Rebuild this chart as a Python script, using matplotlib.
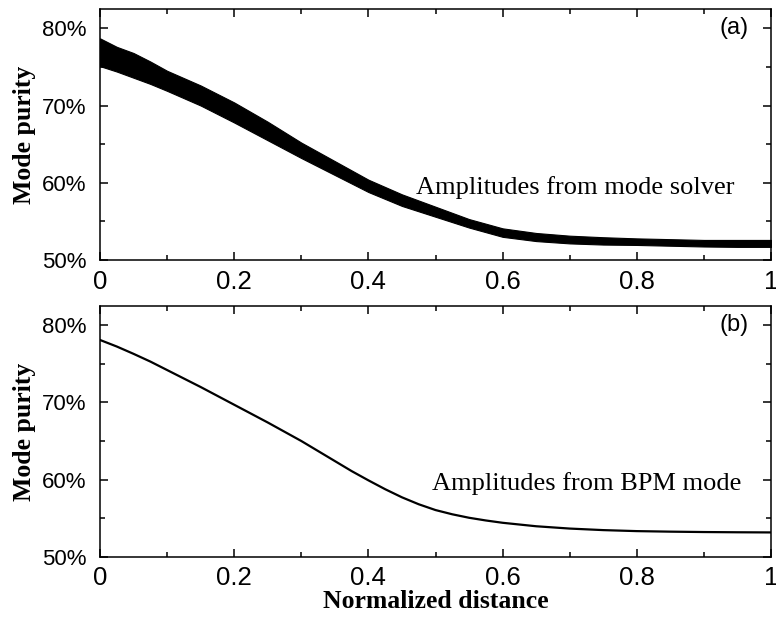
import numpy as np
import matplotlib
matplotlib.use('Agg')
import matplotlib.pyplot as plt
from matplotlib.ticker import MultipleLocator, FuncFormatter

# panel (a): envelope of the oscillating band (mode purity in %)
dist_a = [0, 0.025, 0.05, 0.075, 0.1, 0.15, 0.2, 0.25, 0.3, 0.35, 0.4,
          0.45, 0.5, 0.55, 0.6, 0.65, 0.7, 0.75, 0.8, 0.85, 0.9, 0.95, 1.0]
upper_a = [78.7, 77.6, 76.8, 75.7, 74.5, 72.6, 70.4, 67.9, 65.2, 62.8, 60.4,
           58.5, 56.9, 55.3, 54.1, 53.5, 53.15, 52.95, 52.8, 52.7, 52.6, 52.6, 52.6]
lower_a = [75.1, 74.4, 73.6, 72.8, 71.9, 70.0, 67.8, 65.5, 63.2, 61.0, 58.8,
           57.0, 55.6, 54.2, 53.0, 52.45, 52.15, 52.0, 51.95, 51.85, 51.75, 51.7, 51.7]

# panel (b): smooth curve
dist_b = [0, 0.025, 0.05, 0.075, 0.1, 0.125, 0.15, 0.175, 0.2, 0.225, 0.25,
          0.275, 0.3, 0.325, 0.35, 0.375, 0.4, 0.425, 0.45, 0.475, 0.5, 0.525,
          0.55, 0.575, 0.6, 0.65, 0.7, 0.75, 0.8, 0.85, 0.9, 0.95, 1.0]
purity_b = [78.1, 77.25, 76.3, 75.3, 74.2, 73.1, 72.0, 70.85, 69.7, 68.55, 67.4,
            66.2, 65.0, 63.7, 62.4, 61.1, 59.9, 58.75, 57.7, 56.8, 56.05, 55.5,
            55.05, 54.7, 54.4, 53.95, 53.65, 53.45, 53.32, 53.25, 53.2, 53.17, 53.15]

x_ticks = [0, 0.2, 0.4, 0.6, 0.8, 1.0]
y_ticks = [50, 60, 70, 80]

sans = 'Liberation Sans'
serif = 'Liberation Serif'

fig = plt.figure(figsize=(7.76, 6.21), dpi=100)
ax1 = fig.add_axes([0.1289, 0.5813, 0.8647, 0.4042])
ax2 = fig.add_axes([0.1289, 0.1035, 0.8647, 0.4037])

ax1.fill_between(dist_a, lower_a, upper_a, color='black', linewidth=0.8,
                 edgecolor='black')
ax2.plot(dist_b, purity_b, color='black', linewidth=1.6)

for ax in (ax1, ax2):
    ax.set_xlim(0, 1)
    ax.set_ylim(50, 82.5)
    ax.set_xticks(x_ticks)
    ax.set_yticks(y_ticks)
    ax.xaxis.set_minor_locator(MultipleLocator(0.1))
    ax.yaxis.set_minor_locator(MultipleLocator(5))
    ax.xaxis.set_major_formatter(FuncFormatter(lambda v, p: '%g' % v))
    ax.yaxis.set_major_formatter(FuncFormatter(lambda v, p: '%d%%' % v))
    ax.tick_params(which='both', direction='in', top=True, right=True,
                   width=1.1, color='black')
    ax.tick_params(which='major', length=5.5)
    ax.tick_params(which='minor', length=3.5)
    ax.tick_params(axis='x', which='major', pad=7)
    ax.tick_params(axis='y', which='major', pad=10)
    for lab in ax.get_xticklabels():
        lab.set_fontfamily(sans)
        lab.set_fontsize(18.5)
    for lab in ax.get_yticklabels():
        lab.set_fontfamily(sans)
        lab.set_fontsize(16)
    for sp in ax.spines.values():
        sp.set_linewidth(1.1)
    ax.set_ylabel('Mode purity', family=serif, fontweight='bold',
                  fontsize=18.5, labelpad=4)

ax1.text(0.945, 80, '(a)', family=sans, fontsize=17, ha='center', va='center')
ax2.text(0.945, 80, '(b)', family=sans, fontsize=17, ha='center', va='center')
ax1.text(0.945, 58.6, 'Amplitudes from mode solver', family=serif,
         fontsize=19, ha='right', va='baseline')
ax2.text(0.956, 58.6, 'Amplitudes from BPM mode', family=serif,
         fontsize=19, ha='right', va='baseline')
ax2.set_xlabel('Normalized distance', family=serif, fontweight='bold',
               fontsize=18.5, labelpad=0)

fig.savefig('out.png', dpi=100)
plt.close()
